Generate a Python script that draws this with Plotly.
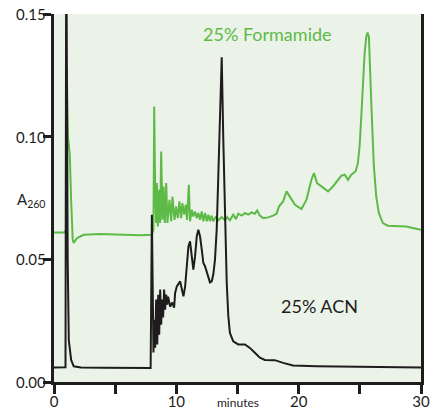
import plotly.graph_objects as go

# ---- data (time in minutes, absorbance A260) ----
acn_t = [0, 0.86, 0.94, 1.0, 1.06, 1.12, 1.21, 1.4, 1.61, 2.2, 4.0, 6.0, 7.9,
         8.0, 8.05, 8.13, 8.19, 8.27, 8.35, 8.44, 8.52, 8.60, 8.68, 8.76, 8.84, 8.92,
         9.0, 9.08, 9.17, 9.25, 9.33, 9.49, 9.66, 9.82,
         9.90, 10.04, 10.31, 10.45, 10.58, 10.72, 10.86, 10.99, 11.12, 11.26, 11.39,
         11.53, 11.67, 11.80, 11.94, 12.08, 12.21, 12.35, 12.49, 12.62, 12.75, 12.89,
         13.02, 13.16, 13.30, 13.43, 13.57, 13.71, 13.84, 13.98, 14.12, 14.25, 14.38,
         14.65, 15.06, 15.61, 16.01, 16.42, 16.83, 17.24, 17.78, 18.05, 18.73, 19.54,
         21.45, 24.16, 26.6, 30.0]
acn_v = [0.0059, 0.0059, 0.006, 0.19, 0.10, 0.05, 0.017, 0.009, 0.0064, 0.0059, 0.0058, 0.0057, 0.0057,
         0.0682, 0.03, 0.012, 0.0254, 0.014, 0.0336, 0.0153, 0.0356, 0.0193, 0.0377, 0.0234, 0.0336, 0.0263,
         0.0377, 0.0295, 0.0356, 0.0315, 0.0348, 0.0307, 0.0324, 0.0303,
         0.0363, 0.039, 0.041, 0.0377, 0.0349, 0.039, 0.0471, 0.0553, 0.0573, 0.0512, 0.0458,
         0.0512, 0.0593, 0.0621, 0.0593, 0.0539, 0.0485, 0.0471, 0.0451, 0.0424, 0.0406, 0.041,
         0.0438, 0.0499, 0.0621, 0.0838, 0.1082, 0.1324, 0.0987, 0.0648, 0.0404, 0.0268, 0.020,
         0.0166, 0.0153, 0.0153, 0.0139, 0.0119, 0.0099, 0.009, 0.0088, 0.0089, 0.0078, 0.0067,
         0.0064, 0.0062, 0.0061, 0.0059]

form_t = [0, 0.86, 1.0, 1.04, 1.14, 1.21, 1.29, 1.40, 1.53, 1.61, 1.89, 2.43, 3.79, 7.05, 8.0,
          8.13, 8.19, 8.27, 8.35, 8.41, 8.49, 8.60, 8.68, 8.76, 8.87, 8.95, 9.06, 9.17, 9.27,
          9.44, 9.58, 9.68, 9.85, 9.98, 10.12, 10.25, 10.39, 10.50, 10.64, 10.77, 10.88, 11.02,
          11.12, 11.26, 11.39, 11.53, 11.67, 11.80, 11.94, 12.08, 12.21, 12.35, 12.49, 12.62,
          12.75, 12.89, 13.02, 13.24, 13.43, 13.71, 13.98, 14.16, 14.38, 14.65, 14.87, 15.06,
          15.34, 15.61, 15.88, 16.15, 16.42, 16.61, 16.83, 17.10, 17.51, 17.91, 18.19, 18.40,
          18.73, 19.01, 19.27, 19.68, 20.23, 20.64, 21.04, 21.25, 21.50, 21.86, 22.13, 22.40,
          22.80, 23.21, 23.49, 23.76, 24.03, 24.30, 24.65, 24.84, 24.98, 25.12, 25.25, 25.39,
          25.53, 25.63, 25.74, 25.85, 25.98, 26.15, 26.34, 26.55, 26.88, 27.29, 27.97, 28.79,
          29.32, 30.0]
form_v = [0.0609, 0.0609, 0.062, 0.1285, 0.100, 0.096, 0.0926, 0.0743, 0.058, 0.0567, 0.0587, 0.060, 0.0603, 0.0598, 0.060,
          0.0621, 0.1123, 0.0784, 0.0648, 0.0811, 0.0634, 0.0784, 0.0648, 0.0939, 0.0661, 0.0797, 0.0648, 0.0811, 0.0648,
          0.0743, 0.0655, 0.0756, 0.0661, 0.0716, 0.0668, 0.0736, 0.0668, 0.0729, 0.0682, 0.0723, 0.0661, 0.0804,
          0.0655, 0.0702, 0.0675, 0.0695, 0.0668, 0.0689, 0.0661, 0.0695, 0.0655, 0.0689, 0.0655, 0.0682,
          0.0655, 0.0678, 0.0655, 0.0675, 0.0659, 0.0672, 0.0659, 0.0672, 0.0659, 0.0682, 0.0664, 0.0686,
          0.0678, 0.0689, 0.0682, 0.0691, 0.0686, 0.0699, 0.0678, 0.0668, 0.0671, 0.0678, 0.0686, 0.0716,
          0.0736, 0.0777, 0.0756, 0.0723, 0.0705, 0.0743, 0.0824, 0.0852, 0.0811, 0.0797, 0.0790, 0.0777,
          0.0797, 0.0824, 0.0841, 0.0845, 0.0824, 0.0845, 0.0858, 0.0892, 0.096, 0.1082, 0.1218, 0.134,
          0.1408, 0.1424, 0.1408, 0.1285, 0.1082, 0.0878, 0.0756, 0.0689, 0.0648, 0.0637, 0.0637, 0.0634,
          0.0628, 0.0621]

x_tickvals = [0, 10, 20, 30]
x_ticktext = ["0", "10", "20", "30"]
x_minor_step = 5
y_tickvals = [0.0, 0.05, 0.10, 0.15]
y_ticktext = ["0.00", "0.05", "0.10", "0.15"]

GREEN = "#5dba47"
BLACK = "#1e1c1c"
FONT = "Lato"

fig = go.Figure()
fig.add_trace(go.Scatter(x=form_t, y=form_v, mode="lines",
                         line=dict(color=GREEN, width=2), hoverinfo="skip"))
fig.add_trace(go.Scatter(x=acn_t, y=acn_v, mode="lines",
                         line=dict(color=BLACK, width=2), hoverinfo="skip"))

fig.update_layout(
    width=430, height=409,
    margin=dict(l=53.5, r=8.5, t=14, b=26.5, autoexpand=False),
    paper_bgcolor="white",
    plot_bgcolor="#ebf3e8",
    showlegend=False,
    font=dict(family=FONT, size=15, color=BLACK),
    xaxis=dict(range=[0, 30], tickmode="array", tickvals=x_tickvals, ticktext=x_ticktext,
               showgrid=False, zeroline=False, showline=True, linecolor=BLACK,
               linewidth=2.5, ticks="outside", ticklen=9, tickwidth=2.5,
               tickcolor=BLACK, tickfont=dict(size=15, family=FONT, color=BLACK),
               ticklabelstandoff=-5,
               minor=dict(tickmode="linear", tick0=0, dtick=x_minor_step, ticks="outside",
                          ticklen=9, tickwidth=2.5, tickcolor=BLACK, showgrid=False),
               automargin=False),
    yaxis=dict(range=[0, 0.15], tickmode="array", tickvals=y_tickvals,
               showticklabels=False,
               showgrid=False, zeroline=False, showline=True, linecolor=BLACK,
               linewidth=2.5, ticks="outside", ticklen=8, tickwidth=2.5,
               tickcolor=BLACK, mirror=True, automargin=False),
)

# y tick labels placed right next to the tick marks
for v, txt in zip(y_tickvals, y_ticktext):
    fig.add_annotation(x=-0.0165, xref="paper", y=v, yref="y", text=txt,
                       showarrow=False, xanchor="right", yanchor="middle",
                       font=dict(size=15, color=BLACK, family=FONT))

fig.add_annotation(x=17.44, y=0.1419, text="25% Formamide", showarrow=False,
                   font=dict(size=18, color=GREEN, family=FONT),
                   xanchor="center", yanchor="middle")
fig.add_annotation(x=21.72, y=0.0311, text="25% ACN", showarrow=False,
                   font=dict(size=18, color=BLACK, family=FONT),
                   xanchor="center", yanchor="middle")
fig.add_annotation(x=-0.064, xref="paper", y=0.0743, text="A<sub>260</sub>",
                   showarrow=False, font=dict(size=15, color=BLACK, family=FONT),
                   xanchor="center", yanchor="middle")
fig.add_annotation(x=15, xref="x", y=-0.056, yref="paper", text="minutes", showarrow=False,
                   font=dict(size=12, color=BLACK, family=FONT),
                   xanchor="center", yanchor="middle")

fig.write_html("out.html", config={"displayModeBar": False},
               post_script="document.body.style.margin='0';")
